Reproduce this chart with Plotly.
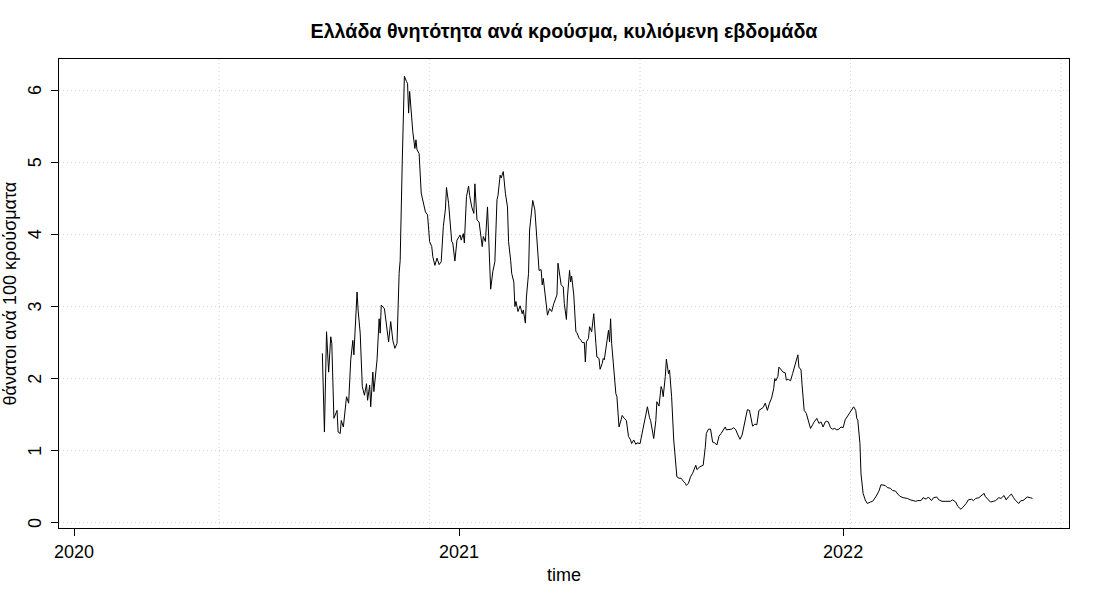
import pandas as pd
import plotly.graph_objects as go

# deaths per 100 cases, rolling week
# day = days since 2020-01-01
day = [236, 238, 240, 242, 244, 245, 247, 250, 251, 253, 254, 256, 259, 261, 263, 265, 266, 269, 270, 272,
       274, 276, 278, 279, 281, 282, 284, 285, 288, 290, 291, 292, 295, 297, 299, 301, 303, 305, 307, 309,
       310, 312, 314, 316, 317, 318, 319, 322, 324, 325, 326, 328, 330, 334, 336, 338, 340, 341, 343, 345,
       347, 349, 351, 353, 354, 356, 359, 360, 362, 364, 367, 368, 370, 371, 373, 375, 376, 378, 380, 381,
       383, 385, 387, 388, 389, 391, 393, 395, 396, 398, 400, 402, 403, 405, 406, 408, 410, 412, 413, 415,
       416, 418, 419, 420, 422, 424, 426, 427, 429, 430, 432, 433, 436, 438, 440, 442, 444, 445, 446, 448,
       450, 452, 454, 456, 458, 459, 460, 462, 463, 465, 466, 468, 469, 471, 472, 473, 475, 477, 478, 480,
       482, 483, 485, 486, 487, 489, 490, 492, 494, 496, 497, 499, 500, 502, 503, 504, 506, 508, 509, 510,
       511, 513, 515, 516, 518, 520, 521, 523, 525, 527, 529, 530, 532, 534, 535, 538, 541, 543, 545, 547,
       548, 551, 553, 554, 556, 558, 559, 560, 562, 563, 565, 566, 568, 570, 572, 573, 575, 577, 579, 581,
       582, 584, 586, 588, 591, 592, 595, 598, 600, 601, 603, 605, 607, 609, 611, 613, 615, 617, 619, 620,
       623, 625, 627, 629, 631, 633, 635, 637, 639, 640, 642, 644, 645, 647, 649, 651, 653, 655, 657, 659,
       661, 663, 665, 666, 667, 669, 670, 672, 674, 676, 677, 679, 681, 683, 684, 686, 688, 689, 691, 692,
       694, 696, 698, 700, 702, 703, 706, 708, 710, 712, 714, 715, 717, 719, 721, 723, 725, 727, 729, 731,
       733, 735, 738, 740, 741, 743, 744, 745, 747, 748, 750, 752, 754, 757, 759, 762, 765, 767, 771, 773,
       776, 778, 781, 783, 785, 788, 792, 795, 797, 800, 802, 805, 807, 810, 812, 815, 817, 820, 822, 825,
       828, 830, 833, 835, 838, 840, 843, 845, 848, 850, 853, 855, 857, 860, 862, 865, 866, 869, 871, 874,
       876, 879, 881, 884, 886, 888, 891, 893, 895, 898, 900, 902, 904, 906, 909, 911]

rate = [2.35, 1.26, 2.65, 2.09, 2.58, 2.49, 1.45, 1.56, 1.26, 1.24, 1.42, 1.33, 1.75, 1.66, 2.26, 2.53, 2.33, 3.20, 2.95, 2.63,
        1.89, 1.77, 1.93, 1.70, 1.91, 1.61, 2.09, 1.82, 2.26, 2.83, 2.63, 3.02, 2.97, 2.70, 2.51, 2.79, 2.53, 2.42, 2.49, 3.46,
        3.64, 5.03, 6.19, 6.12, 6.09, 5.68, 5.98, 5.42, 5.19, 5.31, 5.17, 5.12, 4.57, 4.31, 4.27, 3.90, 3.83, 3.69, 3.57, 3.67,
        3.58, 3.62, 4.11, 4.35, 4.65, 4.43, 3.90, 3.88, 3.63, 3.92, 3.99, 3.92, 4.01, 3.88, 4.52, 4.67, 4.54, 4.38, 4.29, 4.70,
        4.20, 4.17, 3.88, 3.83, 3.97, 3.90, 4.38, 3.64, 3.24, 3.48, 3.62, 4.48, 4.54, 4.82, 4.78, 4.87, 4.57, 4.38, 3.90, 3.64,
        3.46, 3.34, 3.00, 3.07, 2.93, 3.01, 2.90, 2.95, 2.77, 3.13, 3.46, 4.06, 4.47, 4.34, 3.97, 3.50, 3.51, 3.30, 3.39, 3.13,
        2.88, 2.97, 2.93, 3.04, 3.11, 3.16, 3.60, 3.39, 3.30, 3.27, 3.04, 2.82, 3.13, 3.50, 3.34, 3.42, 3.16, 2.65, 2.64, 2.56,
        2.53, 2.50, 2.50, 2.23, 2.51, 2.56, 2.72, 2.65, 2.90, 2.49, 2.30, 2.28, 2.13, 2.21, 2.28, 2.26, 2.44, 2.67, 2.51, 2.83,
        2.49, 2.12, 1.79, 1.75, 1.33, 1.43, 1.49, 1.45, 1.42, 1.20, 1.15, 1.10, 1.15, 1.09, 1.11, 1.10, 1.33, 1.45, 1.61, 1.46,
        1.42, 1.17, 1.42, 1.68, 1.62, 1.89, 1.85, 1.75, 2.03, 2.27, 2.07, 2.12, 1.75, 1.15, 0.82, 0.64, 0.62, 0.62, 0.58, 0.55,
        0.52, 0.55, 0.64, 0.69, 0.80, 0.74, 0.78, 0.80, 1.05, 1.24, 1.30, 1.30, 1.12, 1.11, 1.08, 1.20, 1.24, 1.29, 1.33, 1.29,
        1.29, 1.30, 1.32, 1.29, 1.22, 1.16, 1.22, 1.38, 1.49, 1.57, 1.56, 1.38, 1.34, 1.37, 1.36, 1.56, 1.58, 1.60, 1.66, 1.56,
        1.66, 1.73, 1.86, 2.00, 1.97, 2.03, 2.16, 2.13, 2.09, 2.08, 1.98, 1.99, 1.97, 2.07, 2.12, 2.21, 2.33, 2.16, 2.12, 1.91,
        1.56, 1.52, 1.42, 1.31, 1.36, 1.39, 1.45, 1.38, 1.40, 1.33, 1.40, 1.41, 1.40, 1.32, 1.30, 1.31, 1.29, 1.30, 1.33, 1.32,
        1.43, 1.48, 1.55, 1.60, 1.61, 1.56, 1.45, 1.42, 1.10, 0.68, 0.41, 0.32, 0.27, 0.29, 0.30, 0.36, 0.44, 0.53, 0.52, 0.49,
        0.48, 0.45, 0.44, 0.40, 0.37, 0.35, 0.34, 0.32, 0.31, 0.30, 0.31, 0.31, 0.35, 0.33, 0.36, 0.31, 0.35, 0.36, 0.32, 0.30,
        0.30, 0.30, 0.30, 0.32, 0.29, 0.23, 0.19, 0.22, 0.27, 0.32, 0.33, 0.31, 0.34, 0.35, 0.37, 0.41, 0.37, 0.32, 0.29, 0.30,
        0.31, 0.35, 0.34, 0.38, 0.32, 0.36, 0.40, 0.35, 0.31, 0.27, 0.31, 0.31, 0.33, 0.36, 0.35, 0.34]

year_ticks = ["2020-01-01", "2021-01-01", "2022-01-01"]
year_labels = ["2020", "2021", "2022"]
y_ticks = [0, 1, 2, 3, 4, 5, 6]
# R grid() vertical lines (every 200 days)
vgrid = ["2020-05-18", "2020-12-04", "2021-06-22", "2022-01-08", "2022-07-27"]

dates = pd.Timestamp("2020-01-01") + pd.to_timedelta(day, unit="D")

FONT = "Liberation Sans, Arial, sans-serif"
GRID = "#d3d3d3"
PLOT_W = 1100 - 59 - 31

fig = go.Figure()
fig.add_trace(go.Scatter(x=dates, y=rate, mode="lines",
                         line=dict(color="black", width=1), hoverinfo="x+y"))

for d in vgrid:
    fig.add_vline(x=d, line=dict(color=GRID, width=1, dash="1px,3px"), layer="below")

# y tick labels drawn rotated, as in R's default las=0
annotations = [
    dict(text=str(v), xref="paper", yref="y", x=(35 - 59) / PLOT_W, y=v, textangle=-90,
         xanchor="center", yanchor="middle", showarrow=False, font=dict(size=18))
    for v in y_ticks
]
annotations += [
    dict(text="time", xref="paper", yref="paper", x=0.5, y=-47 / 469,
         xanchor="center", yanchor="middle", showarrow=False, font=dict(size=18)),
    dict(text="θάνατοι ανά 100 κρούσματα", xref="paper", yref="paper",
         x=(9 - 59) / PLOT_W, y=0.5, textangle=-90,
         xanchor="center", yanchor="middle", showarrow=False, font=dict(size=18)),
]

fig.update_layout(
    width=1100, height=600,
    margin=dict(l=59, r=31, t=59, b=72),
    paper_bgcolor="white", plot_bgcolor="white",
    showlegend=False,
    font=dict(family=FONT, size=18, color="black"),
    title=dict(text="<b>Ελλάδα θνητότητα ανά κρούσμα, κυλιόμενη εβδομάδα</b>",
               x=(59 + 1069) / 2 / 1100, xanchor="center", y=1 - 31 / 600, yanchor="middle",
               font=dict(size=19.7)),
    xaxis=dict(type="date", range=["2019-12-17 17:00", "2022-08-03 17:00"],
               tickvals=year_ticks, ticktext=year_labels,
               ticks="outside", ticklen=7, tickcolor="black",
               showgrid=False, zeroline=False, automargin=False,
               showline=True, mirror=True, linecolor="black", linewidth=1),
    yaxis=dict(range=[-0.07, 6.43], tickvals=y_ticks, showticklabels=False,
               ticks="outside", ticklen=7, tickcolor="black",
               showgrid=True, gridcolor=GRID, griddash="1px,3px", gridwidth=1,
               zeroline=False, automargin=False,
               showline=True, mirror=True, linecolor="black", linewidth=1),
    annotations=annotations,
)

fig.write_html("out.html", config={"displayModeBar": False},
               post_script="document.body.style.margin = '0';")
